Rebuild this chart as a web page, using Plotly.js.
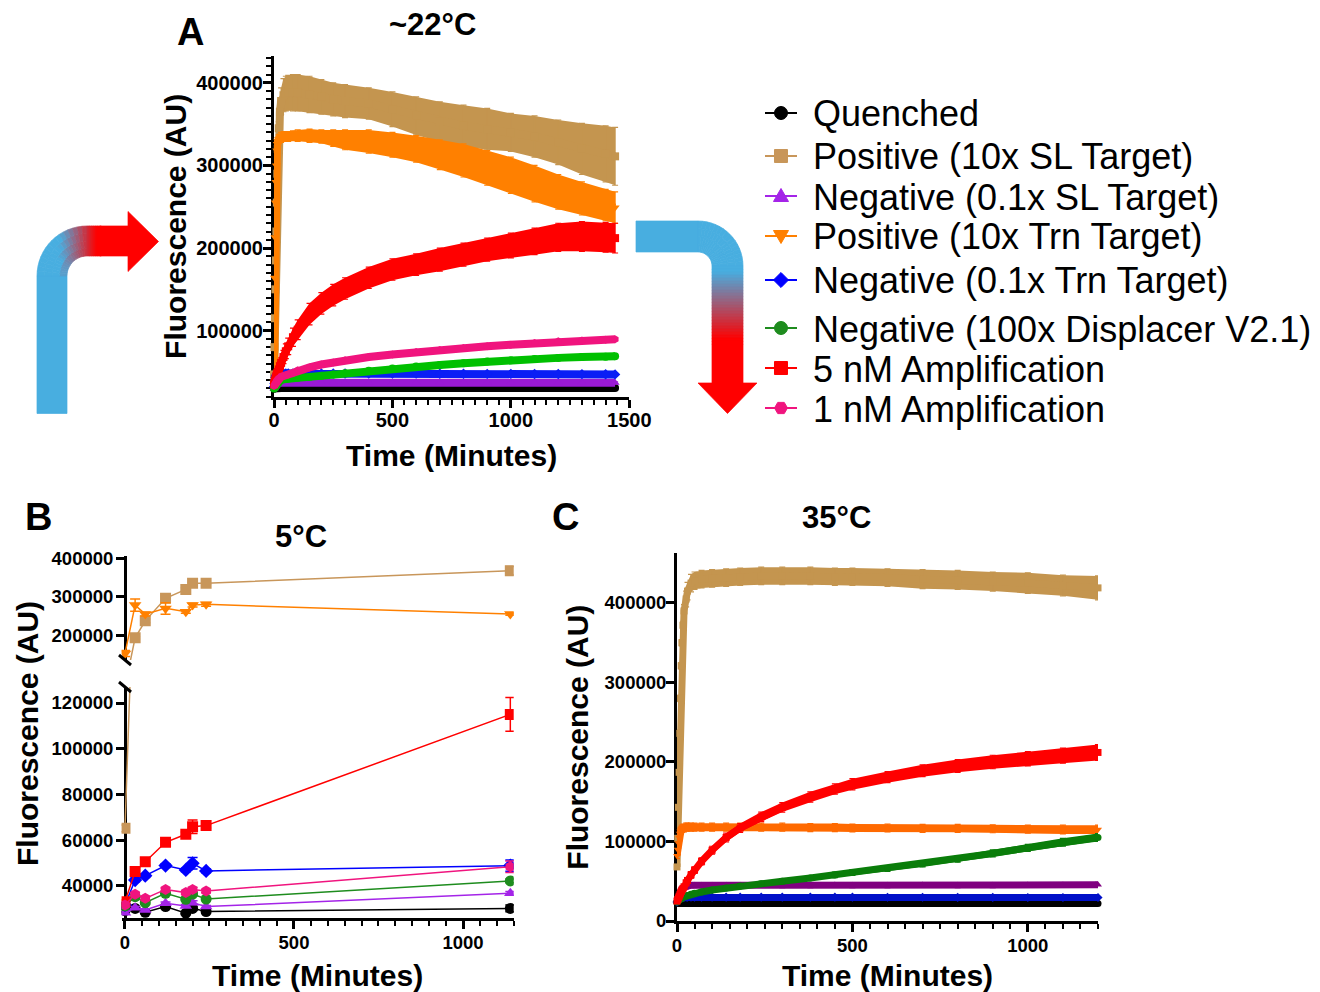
<!DOCTYPE html>
<html><head><meta charset="utf-8">
<script src="https://cdn.plot.ly/plotly-3.0.1.min.js"></script>
<style>html,body{margin:0;padding:0;background:#fff;}#chart{width:1320px;height:992px;}</style>
</head><body><div id="chart"></div>
<script>
// ---------------- DATA ----------------
const seriesNames = ['Quenched', 'Positive (10x SL Target)', 'Negative (0.1x SL Target)', 'Positive (10x Trn Target)',
  'Negative (0.1x Trn Target)', 'Negative (100x Displacer V2.1)', '5 nM Amplification', '1 nM Amplification'];

// Panel A (~22 °C), time in minutes
const A_time = [0,2,4,6,8,10,12,14,16,20,25,30,40,50,60,80,100,150,200,250,300,400,500,600,700,800,900,1000,1100,1200,1300,1400,1440];
const A_quenched = [30000,30200,30300,30400,30400,30500,30500,30500,30500,30500,30500,30500,30500,30500,30500,30500,30600,30600,30500,30500,30500,30600,30500,30500,30600,30500,30500,30500,30400,30500,30500,30400,30400];
const A_quenched_err = [1200,1200,1200,1200,1200,1200,1200,1200,1200,1200,1200,1200,1200,1200,1200,1200,1200,1200,1200,1200,1200,1200,1200,1200,1200,1200,1200,1200,1200,1200,1200,1200,1200];
const A_posSL = [47000,80000,115000,150000,185000,220000,255000,290000,320000,345000,365000,378000,385000,387000,388000,388000,388000,386000,383000,380000,378000,375000,368000,360000,353000,348000,344000,340000,335000,328000,320000,314000,311000];
const A_posSL_err = [2000,3000,3000,3000,3000,3000,3000,3000,4000,8000,12000,16000,20000,21000,21000,22000,22000,22000,21000,20000,20000,19000,21000,23000,24000,25000,25000,23000,25000,27000,31000,34000,35000];
const A_negSL = [30000,31000,32000,33000,34000,35000,35500,36000,36500,37000,37000,37200,37200,37000,37000,37200,37000,37000,37200,37000,37000,37000,37200,37000,37000,37200,37000,37000,37000,36800,37000,36800,36800];
const A_negSL_err = [1200,1200,1200,1200,1200,1200,1200,1200,1200,1200,1200,1200,1200,1200,1200,1200,1200,1200,1200,1200,1200,1200,1200,1200,1200,1200,1200,1200,1200,1200,1200,1200,1200];
const A_posTrn = [38000,164000,213000,255000,280000,300000,318000,326000,330000,332000,333000,334000,335000,335000,335000,336000,336000,336000,335000,333000,331000,329000,325000,320000,313000,306000,297000,288000,278000,268000,260000,252000,249000];
const A_posTrn_err = [3000,4000,4000,4000,4000,4000,4000,4000,4000,5000,5000,6000,6000,6000,6000,6000,7000,8000,8000,10000,12000,14000,15000,16000,18000,20000,21000,22000,22000,21000,20000,19000,19000];
const A_negTrn = [32000,36000,40000,43000,45000,46000,47000,47500,48000,48000,48200,48000,48200,48000,48000,48200,48000,48000,48200,48000,48000,48000,48000,48000,47800,47800,47600,47600,47500,47400,47300,47200,47000];
const A_negTrn_err = [1500,1500,1500,1500,1500,1500,1500,1500,1500,1500,1500,1500,1500,1500,1500,1500,1500,1500,1500,1500,1500,1500,1500,1500,1500,1500,1500,1500,1500,1500,1500,1500,1500];
const A_neg100x = [30000,31000,32000,33000,34000,35000,36000,37000,38000,39000,40000,40500,41000,41500,42000,42500,43000,44000,45500,47000,48500,51500,54000,56500,58500,60500,62500,64000,65500,67000,68000,68500,69000];
const A_neg100x_err = [1200,1200,1200,1200,1200,1200,1200,1200,1200,1200,1200,1200,1200,1200,1200,1200,1200,1500,1500,1500,1500,1500,1500,1500,1800,1800,2000,2000,2200,2200,2500,2500,2500];
const A_5nM = [35000,37000,39000,41000,43000,45000,47000,48500,50000,53000,57000,61000,68000,75000,81000,92000,101000,120000,133000,143000,151000,164000,174000,180000,186000,192000,198000,203000,208000,213000,214000,213000,212000];
const A_5nM_err = [2000,2000,2000,2000,2000,3000,3000,3000,3000,4000,5000,6000,8000,9000,10000,11000,12000,13000,13000,13000,13000,13000,13000,13000,14000,14000,14000,15000,16000,17000,18000,18000,18000];
const A_1nM = [33000,34000,35000,36000,37000,38000,39000,40000,40500,42000,43000,44000,45000,46000,47000,48500,52000,55500,59000,61500,64000,68000,71000,74000,76500,79000,81000,83000,85000,87000,88000,89000,89500];
const A_1nM_err = [1500,1500,1500,1500,1500,1500,1500,1500,1500,1500,1500,1500,1500,1500,1500,1500,1500,1500,1500,1500,1500,1500,1500,1500,1500,1500,1500,1500,1500,1500,1500,1500,1500];

// Panel B (5 °C)
const B_time = [0,30,60,120,180,200,240,1140];
const B_quenched = [29200,30200,28500,31000,28100,30200,28800,30200];
const B_quenched_err = [600,600,600,600,600,800,600,1500];
const B_posSL = [65200,192700,237000,295600,319000,334700,334700,367600];
const B_posSL_err = [1500,3000,5000,6000,4000,3000,3000,11000];
const B_negSL = [28300,30500,29500,32400,31300,32700,31000,36800];
const B_negSL_err = [500,500,500,600,600,800,500,800];
const B_posTrn = [152000,278000,254600,269500,260600,278000,280000,254600];
const B_posTrn_err = [8000,16000,5000,15000,4000,5000,5000,3000];
const B_negTrn = [31700,42600,44500,48900,47000,49900,46600,48900];
const B_negTrn_err = [600,800,800,800,800,2500,800,2500];
const B_neg100x = [31300,35300,32700,36800,34200,36500,34300,42200];
const B_neg100x_err = [500,600,600,600,600,800,600,800];
const B_5nM = [33100,46300,50600,59100,62600,65900,66400,115000];
const B_5nM_err = [800,1000,1500,1000,1000,3000,1000,7400];
const B_1nM = [31700,36400,34600,38500,37100,38500,37800,48400];
const B_1nM_err = [500,600,600,600,600,800,600,2500];

// Panel C (35 °C)
const C_time = [0,2,4,6,8,10,12,14,17,20,26,30,40,50,70,100,140,180,240,300,380,450,500,600,700,800,900,1000,1100,1200];
const C_quenched = [23000,22500,22200,22000,22000,22000,22000,22000,22000,22000,22000,22000,22000,22000,22000,22000,22000,22000,22000,22000,22000,22000,22000,22000,22000,22000,22000,22000,22000,22000];
const C_quenched_err = [1200,1200,1200,1200,1200,1200,1200,1200,1200,1200,1200,1200,1200,1200,1200,1200,1200,1200,1200,1200,1200,1200,1200,1200,1200,1200,1200,1200,1200,1200];
const C_posSL = [68000,104000,143000,187000,236000,280000,321000,350000,372000,390000,405000,415000,425000,428000,430000,431000,432000,433000,434000,434000,434000,433000,433000,432000,430000,429000,427000,425000,422000,419000];
const C_posSL_err = [3000,4000,4000,4000,4000,4000,4000,4000,5000,8000,10000,11000,11000,11000,11000,11000,11000,11000,11000,11000,11000,11000,11000,11000,12000,12000,12000,13000,13000,15000];
const C_negSL = [24000,27000,30000,33000,35000,37000,39000,40000,41500,42500,43500,44000,45000,45000,45000,45000,45000,45000,45200,45000,45000,45200,45000,45000,45200,45000,45000,45200,45300,45500];
const C_negSL_err = [2500,2500,2500,2500,2500,2500,2500,2500,2500,3000,3000,3000,3000,3000,3000,3000,3000,3000,3000,3000,3000,3000,3000,3000,3000,3000,3000,3000,3000,3000];
const C_posTrn = [82000,90000,98000,105000,110000,113000,115000,116000,117000,117000,118000,118000,118000,118000,118000,118000,118000,118000,118000,118000,117500,117500,117000,117000,116500,116500,116000,115500,115000,115000];
const C_posTrn_err = [3500,3500,3500,3500,4000,4000,4000,4500,4500,5000,5000,5000,5000,5000,5000,5000,5000,5000,5000,5000,5000,5000,5000,5000,5000,5000,5000,5000,5500,5500];
const C_negTrn = [24000,25000,26500,27500,28500,29000,29500,29500,29500,29500,30000,30000,30000,30000,30000,30000,30000,30000,30000,30000,30000,30000,30000,29800,29800,29700,29700,29600,29600,29500];
const C_negTrn_err = [1800,1800,1800,1800,1800,1800,1800,1800,1800,1800,1800,1800,1800,1800,1800,1800,1800,1800,1800,1800,1800,1800,1800,1800,1800,1800,1800,1800,1800,1800];
const C_neg100x = [24000,25000,26000,27000,27500,28000,28500,29000,30000,30500,31500,32000,33500,35000,36500,39000,41500,44000,47000,50000,54000,58000,61000,66000,72000,78000,85000,92000,99000,105000];
const C_neg100x_err = [1500,1500,1500,1500,1500,1500,1500,1500,2000,2000,2000,2000,2500,2500,2500,2500,3000,3000,3000,3000,3000,3500,3500,3500,4000,4000,4500,4500,5000,5000];
const C_5nM = [25000,27000,29000,31000,33000,35000,37000,39000,41000,43000,48000,51000,58000,64000,75000,89000,105000,117000,131000,143000,156000,166000,172000,181000,189000,195000,200000,204000,208000,212000];
const C_5nM_err = [2500,2500,2500,2500,2500,2500,2500,2500,3000,3000,3500,3500,4000,4000,4500,5000,5500,5500,6000,6000,6500,6500,7000,7000,7500,8000,8500,9000,9500,10000];

// ---------------- STYLE ----------------
const W = 1320, H = 992;
const FONT = 'Liberation Sans, Arial, Helvetica, sans-serif';
const symbols = ['circle','square','triangle-up','triangle-down','diamond','circle','square','hexagon'];
const colorsA = ['#000000','#C4954F','#9A1AD4','#FF8000','#0A1EF5','#00C000','#FF0000','#F0147E'];
const colorsB = ['#000000','#C8965A','#A424E8','#FF8000','#0000FF','#1E8C1E','#FF0000','#F0147E'];
const colorsC = ['#000000','#C4954F','#800080','#FF6A00','#0010C8','#0A7D0A','#FF0000','#F0147E'];
const legendRowsY = [113, 156, 196, 236, 280, 328, 368, 408];
const PX = x => x / W, PY = y => 1 - y / H;

const A_sets = [[A_quenched,A_quenched_err],[A_posSL,A_posSL_err],[A_negSL,A_negSL_err],[A_posTrn,A_posTrn_err],
  [A_negTrn,A_negTrn_err],[A_neg100x,A_neg100x_err],[A_5nM,A_5nM_err],[A_1nM,A_1nM_err]];
const B_sets = [[B_quenched,B_quenched_err],[B_posSL,B_posSL_err],[B_negSL,B_negSL_err],[B_posTrn,B_posTrn_err],
  [B_negTrn,B_negTrn_err],[B_neg100x,B_neg100x_err],[B_5nM,B_5nM_err],[B_1nM,B_1nM_err]];
const C_sets = [[C_quenched,C_quenched_err],[C_posSL,C_posSL_err],[C_negSL,C_negSL_err],[C_posTrn,C_posTrn_err],
  [C_negTrn,C_negTrn_err],[C_neg100x,C_neg100x_err],[C_5nM,C_5nM_err],null];

const traces = [];
function band(t, m, e, color, xa, ya) {
  const up = m.map((v, i) => v + e[i]);
  const lo = m.map((v, i) => v - e[i]);
  return {type:'scatter', mode:'lines', xaxis:xa, yaxis:ya, x:t.concat(t.slice().reverse()),
    y:up.concat(lo.reverse()), fill:'toself', fillcolor:color, line:{width:0, color:color},
    hoverinfo:'skip', showlegend:false};
}
function dense(t, m, e, color, sym, size, xa, ya, name) {
  return {type:'scatter', mode:'lines+markers', name:name, xaxis:xa, yaxis:ya, x:t, y:m,
    line:{color:color, width:size}, marker:{symbol:sym, size:size, color:color},
    error_y:{type:'data', array:e, visible:true, color:color, thickness:1.2, width:3},
    cliponaxis:false, showlegend:false, hoverinfo:'skip'};
}
A_sets.forEach((s, i) => {
  traces.push(band(A_time, s[0], s[1], colorsA[i], 'x', 'y'));
  traces.push(dense(A_time, s[0], s[1], colorsA[i], symbols[i], 8, 'x', 'y', seriesNames[i]));
});
C_sets.forEach((s, i) => {
  if (!s) return;
  traces.push(band(C_time, s[0], s[1], colorsC[i], 'x3', 'y4'));
  traces.push(dense(C_time, s[0], s[1], colorsC[i], symbols[i], 7, 'x3', 'y4', seriesNames[i]));
});
B_sets.forEach((s, i) => {
  ['y2', 'y3'].forEach(ya => {
    traces.push({type:'scatter', mode:'lines+markers', name:seriesNames[i], legendgroup:seriesNames[i],
      xaxis:'x2', yaxis:ya, x:B_time, y:s[0],
      line:{color:colorsB[i], width:1.5}, marker:{symbol:symbols[i], size:11, color:colorsB[i]},
      error_y:{type:'data', array:s[1], visible:true, color:colorsB[i], thickness:1.5, width:5},
      showlegend:false, hoverinfo:'skip'});
  });
});

// ---------------- AXES ----------------
function ax(extra) {
  return Object.assign({showline:true, linewidth:3, linecolor:'black', ticks:'outside', ticklen:8, tickwidth:3,
    tickcolor:'black', showgrid:false, zeroline:false, tickformat:'d', layer:'below traces',
    tickfont:{family:FONT, size:19, color:'black', weight:'bold'}}, extra);
}
const titleFont = {family:FONT, size:30, color:'black', weight:'bold'};
const minorX = {dtick:50, tick0:0, ticklen:5, tickwidth:2, tickcolor:'black', ticks:'outside', showgrid:false};

const layout = {
  width:W, height:H, margin:{l:0, r:0, t:0, b:0}, paper_bgcolor:'white', plot_bgcolor:'rgba(0,0,0,0)',
  font:{family:FONT, color:'black'}, showlegend:false,
  xaxis: ax({domain:[PX(274), PX(629.3)], range:[0, 1500], anchor:'y', dtick:500, tick0:0, minor:minorX,
    ticklabelstandoff:-5, tickfont:{family:FONT, size:20, color:'black', weight:'bold'},
    title:{text:'Time (Minutes)', font:titleFont, standoff:16}}),
  yaxis: ax({domain:[PY(396.7), PY(56)], range:[20000, 432500], anchor:'x', dtick:100000, tick0:0,
    ticklabelstandoff:-4, tickfont:{family:FONT, size:20, color:'black', weight:'bold'},
    minor:{dtick:10000, tick0:0, ticklen:5, tickwidth:2, tickcolor:'black', ticks:'outside', showgrid:false},
    title:{text:'Fluorescence (AU)', font:titleFont, standoff:1}}),
  xaxis2: ax({domain:[PX(121.6), PX(513.7)], range:[-10, 1150], anchor:'y3', dtick:500, tick0:0, minor:minorX,
    ticklabelstandoff:-2, tickfont:{family:FONT, size:18.5, color:'black', weight:'bold'},
    title:{text:'Time (Minutes)', font:titleFont, standoff:14}}),
  yaxis2: ax({domain:[PY(660), PY(556)], range:[135000, 406000], anchor:'free', position:PX(125), dtick:100000, tick0:0,
    ticklabelstandoff:-1, tickfont:{family:FONT, size:18.5, color:'black', weight:'bold'}}),
  yaxis3: ax({domain:[PY(918), PY(687)], range:[26000, 127000], anchor:'free', position:PX(125), dtick:20000, tick0:0,
    ticklabelstandoff:-1, tickfont:{family:FONT, size:18.5, color:'black', weight:'bold'}}),
  xaxis3: ax({domain:[PX(677), PX(1098)], range:[0, 1200], anchor:'y4', dtick:500, tick0:0, minor:minorX,
    ticklabelstandoff:-2, tickfont:{family:FONT, size:18.5, color:'black', weight:'bold'},
    title:{text:'Time (Minutes)', font:titleFont, standoff:14}}),
  yaxis4: ax({domain:[PY(921), PY(553.3)], range:[0, 462500], anchor:'x3', dtick:100000, tick0:0,
    ticklabelstandoff:-4, tickfont:{family:FONT, size:18.5, color:'black', weight:'bold'},
    title:{text:'Fluorescence (AU)', font:titleFont, standoff:8}}),
  annotations: [],
  shapes: []
};

function note(text, x, y, size, angle, weight, anchor) {
  layout.annotations.push({text:text, x:PX(x), y:PY(y), xref:'paper', yref:'paper', showarrow:false,
    xanchor:anchor || 'center', yanchor:'middle', textangle:angle || 0,
    font:{family:FONT, size:size, color:'black', weight:weight || 'bold'}});
}
note('A', 190, 32, 38); note('~22°C', 432, 25, 31);
note('B', 38, 517, 38); note('5°C', 301, 536, 31);
note('C', 565, 517, 38); note('35°C', 836, 517, 31);
note('Fluorescence (AU)', 27, 734, 30, -90);

// axis break marks (panel B)
[660, 687].forEach(yb => {
  layout.shapes.push({type:'line', xref:'paper', yref:'paper', x0:PX(119), y0:PY(yb - 5), x1:PX(131), y1:PY(yb + 5),
    line:{color:'black', width:3}, layer:'above'});
});

// ---------------- KEY (legend) ----------------
function keyShape(path, color) {
  layout.shapes.push({type:'path', xref:'paper', yref:'paper', path:path, fillcolor:color,
    line:{color:color, width:1}, layer:'above'});
}
function toPath(pts) { return 'M' + pts.map(p => PX(p[0]).toFixed(5) + ',' + PY(p[1]).toFixed(5)).join(' L') + ' Z'; }
function markerPts(sym, cx, cy) {
  const r = 6.5;
  if (sym === 'square') return [[cx-r,cy-r],[cx+r,cy-r],[cx+r,cy+r],[cx-r,cy+r]];
  if (sym === 'triangle-up') return [[cx,cy-7.5],[cx+7.5,cy+5.5],[cx-7.5,cy+5.5]];
  if (sym === 'triangle-down') return [[cx-7.5,cy-5.5],[cx+7.5,cy-5.5],[cx,cy+7.5]];
  if (sym === 'diamond') return [[cx,cy-7.5],[cx+7.5,cy],[cx,cy+7.5],[cx-7.5,cy]];
  const n = sym === 'hexagon' ? 6 : 24;
  const pts = [];
  for (let k = 0; k < n; k++) { const a = 2 * Math.PI * k / n; pts.push([cx + r * Math.cos(a), cy + r * Math.sin(a)]); }
  return pts;
}
seriesNames.forEach((nm, i) => {
  const y = legendRowsY[i], c = colorsB[i];
  layout.shapes.push({type:'line', xref:'paper', yref:'paper', x0:PX(765), x1:PX(797), y0:PY(y), y1:PY(y),
    line:{color:c, width:2}, layer:'above'});
  keyShape(toPath(markerPts(symbols[i], 781, y)), c);
  note(nm, 811, y + 1, 36, 0, 'normal', 'left');
});

// ---------------- ARROWS (decoration) ----------------
const BLUE = [72,174,224], RED = [255,0,0];
function mix(f) { f = Math.max(0, Math.min(1, f)); return 'rgb(' + BLUE.map((v, k) => Math.round(v + (RED[k] - v) * f)).join(',') + ')'; }
function poly(pts, color) {
  layout.shapes.push({type:'path', xref:'paper', yref:'paper', path:toPath(pts), fillcolor:color,
    line:{color:color, width:0.7}, layer:'above'});
}
function corner(cx, cy, rIn, rOut, a0, a1, colorFn) {
  const NA = 16, NR = 4;
  for (let i = 0; i < NA; i++) {
    for (let j = 0; j < NR; j++) {
      const b0 = a0 + (a1 - a0) * i / NA, b1 = a0 + (a1 - a0) * (i + 1) / NA;
      const r0 = rIn + (rOut - rIn) * j / NR, r1 = rIn + (rOut - rIn) * (j + 1) / NR;
      const pts = [[cx + r0 * Math.cos(b0), cy + r0 * Math.sin(b0)], [cx + r1 * Math.cos(b0), cy + r1 * Math.sin(b0)],
                   [cx + r1 * Math.cos(b1), cy + r1 * Math.sin(b1)], [cx + r0 * Math.cos(b1), cy + r0 * Math.sin(b1)]];
      const bm = (b0 + b1) / 2, rm = (r0 + r1) / 2;
      poly(pts, colorFn(cx + rm * Math.cos(bm), cy + rm * Math.sin(bm)));
    }
  }
}
// left arrow: up then right, gradient in x
const fL = (x) => mix((x - 60) / 37);
poly([[37,276],[67,276],[67,413.5],[37,413.5]], fL(37));
corner(87, 276, 20, 50, Math.PI, 1.5 * Math.PI, (x, y) => fL(x));
for (let x = 87; x < 100; x += 2) poly([[x,226],[x + 2.3,226],[x + 2.3,256],[x,256]], fL(x + 1));
poly([[100,226],[129,226],[129,256],[100,256]], mix(1));
poly([[128,211.5],[158.5,241.5],[128,271.5]], mix(1));
// right arrow: right then down, gradient in y
const fR = (y) => mix((y - 272) / 68);
poly([[636,221],[698,221],[698,252],[636,252]], fR(221));
corner(698, 266, 14, 45, 1.5 * Math.PI, 2 * Math.PI, (x, y) => fR(y));
for (let y = 266; y < 344; y += 3) poly([[712,y],[743,y],[743,y + 3.3],[712,y + 3.3]], fR(y + 1.5));
poly([[712,344],[743,344],[743,384],[712,384]], mix(1));
poly([[698,383],[757,383],[727.5,413.5]], mix(1));

Plotly.newPlot('chart', traces, layout, {staticPlot:true});
</script></body></html>
